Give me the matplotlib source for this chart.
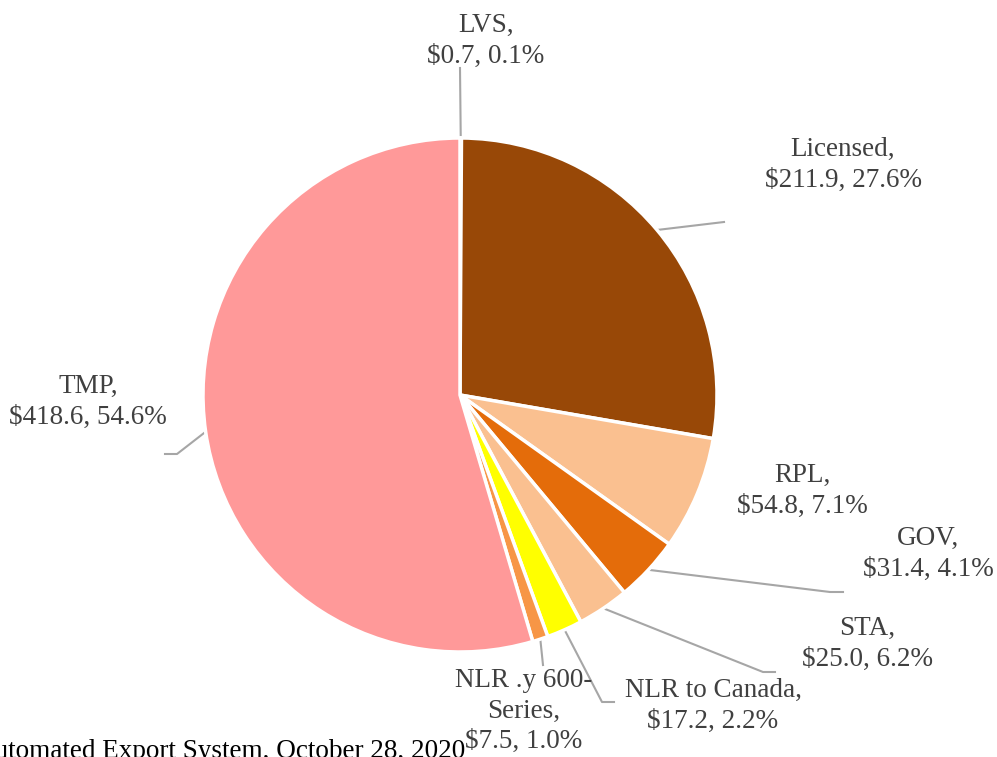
import numpy as np
import matplotlib.pyplot as plt

# values in $ billions, clockwise from the top
categories = ["LVS", "Licensed", "RPL", "GOV", "STA", "NLR to Canada",
              "NLR .y 600-\nSeries", "TMP"]
values = [0.7, 211.9, 54.8, 31.4, 25.0, 17.2, 7.5, 418.6]
shares = ["0.1%", "27.6%", "7.1%", "4.1%", "6.2%", "2.2%", "1.0%", "54.6%"]
colors = ["#C0504D", "#984807", "#FAC090", "#E46C0A", "#FAC090",
          "#FFFF00", "#F79646", "#FF9999"]

W, H = 997, 757
fig = plt.figure(figsize=(W / 100, H / 100), dpi=100)
ax = fig.add_axes([0, 0, 1, 1])

cx, cy, r = 460, H - 395, 257
wedges, _ = ax.pie(values, colors=colors, startangle=90, counterclock=False,
                   center=(cx, cy), radius=r,
                   wedgeprops=dict(edgecolor="white", linewidth=2.5))
ax.set_xlim(0, W)
ax.set_ylim(0, H)
ax.set_aspect("equal")
ax.axis("off")

# label centres and leader line points, in image pixels (y down)
label_pos = [(486, 41), (843, 165), (802, 491), (928, 554), (867, 644),
             (713, 706), (524, 711), (88, 402)]
leaders = [[(460, 68)], [(724, 222)], None, [(830, 592), (843, 592)],
           [(763, 672), (775, 672)], [(602, 702), (614, 702)],
           [(543, 665)], [(177, 454), (165, 454)]]

txt = dict(family="Liberation Serif", fontsize=19.5, color="#404040",
           ha="center", va="center", linespacing=1.3)

for w, cat, v, s, pos, pts in zip(wedges, categories, values, shares,
                                  label_pos, leaders):
    ax.text(pos[0], H - pos[1], f"{cat},\n${v:.1f}, {s}", **txt)
    if pts is None:
        continue
    ang = np.deg2rad((w.theta1 + w.theta2) / 2)
    xs = [cx + r * np.cos(ang)] + [p[0] for p in pts]
    ys = [cy + r * np.sin(ang)] + [H - p[1] for p in pts]
    ax.plot(xs, ys, color="#A6A6A6", lw=1.5, zorder=0)

ax.text(465, H - 758, "Source: Automated Export System, October 28, 2020",
        family="Liberation Serif", fontsize=19.5, color="black",
        ha="right", va="baseline")

fig.savefig("out.png", dpi=100)
